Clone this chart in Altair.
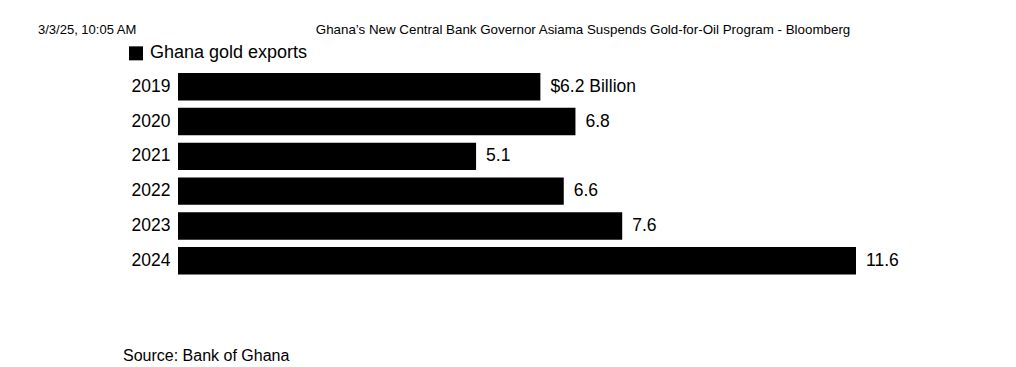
import altair as alt
import pandas as pd

years = ["2019", "2020", "2021", "2022", "2023", "2024"]
values = [6.2, 6.8, 5.1, 6.6, 7.6, 11.6]
labels = ["$6.2 Billion", "6.8", "5.1", "6.6", "7.6", "11.6"]
series_name = "Ghana gold exports"
header_left = "3/3/25, 10:05 AM"
header_title = "Ghana’s New Central Bank Governor Asiama Suspends Gold-for-Oil Program - Bloomberg"
source_text = "Source: Bank of Ghana"

FONT = "Liberation Sans"

df = pd.DataFrame({"year": years, "value": values, "label": labels, "series": [series_name] * len(years)})

W, H = 678, 208.8
PAD_L, PAD_T = 170, 61.35
TOTAL_W, TOTAL_H = 1000, 359

y_enc = alt.Y(
    "year:N",
    sort=years,
    scale=alt.Scale(paddingInner=0.212, paddingOuter=0.106),
    axis=alt.Axis(title=None, ticks=False, domain=False, labelFontSize=17.5, labelColor="#000",
                  labelFont=FONT, labelPadding=8),
)
x_enc = alt.X("value:Q", scale=alt.Scale(domain=[0, 11.6], nice=False, zero=True), axis=None)

bars = alt.Chart(df).mark_bar().encode(
    x=x_enc,
    y=y_enc,
    color=alt.Color(
        "series:N",
        scale=alt.Scale(range=["#000000"]),
        legend=alt.Legend(
            title=None, orient="none", legendX=-51, legendY=-25, symbolType="square",
            symbolSize=196, symbolStrokeWidth=0, labelFontSize=18, labelFont=FONT,
            labelColor="#000", labelOffset=5, padding=0, symbolOffset=0,
        ),
    ),
)

texts = alt.Chart(df).mark_text(align="left", baseline="middle", dx=10, fontSize=17.5, font=FONT, color="#000").encode(
    x=x_enc, y=alt.Y("year:N", sort=years), text="label:N"
)

hdr = pd.DataFrame({"t": [header_left]})
h1 = alt.Chart(hdr).mark_text(align="left", baseline="middle", fontSize=13, font=FONT, color="#000").encode(
    x=alt.value(-140), y=alt.value(-39.35), text="t:N"
)
ttl = pd.DataFrame({"t": [header_title]})
h2 = alt.Chart(ttl).mark_text(align="center", baseline="middle", fontSize=13.35, font=FONT, color="#000").encode(
    x=alt.value(405), y=alt.value(-39.35), text="t:N"
)
src = pd.DataFrame({"t": [source_text]})
s1 = alt.Chart(src).mark_text(align="left", baseline="middle", fontSize=16, font=FONT, color="#000").encode(
    x=alt.value(-55), y=alt.value(286.65), text="t:N"
)

chart = alt.layer(bars, texts, h1, h2, s1).properties(
    width=W, height=H,
    background="white",
    autosize=alt.AutoSizeParams(type="none"),
    padding={"left": PAD_L, "top": PAD_T, "right": TOTAL_W - PAD_L - W, "bottom": TOTAL_H - PAD_T - H},
).configure_view(stroke=None, strokeWidth=0)

chart.save("out.html", embed_options={"renderer": "svg", "actions": False})
